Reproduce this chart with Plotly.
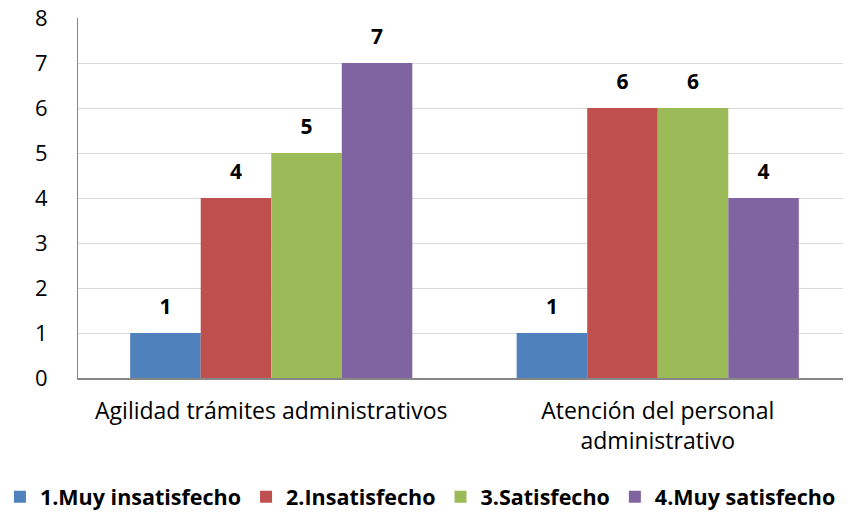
import plotly.graph_objects as go

# ── Data ──────────────────────────────────────────────────────────────────────
categories = ["Agilidad trámites administrativos", "Atención del personal<br>administrativo"]
series = ["1.Muy insatisfecho", "2.Insatisfecho", "3.Satisfecho", "4.Muy satisfecho"]
values = {
    "1.Muy insatisfecho": [1, 1],
    "2.Insatisfecho":     [4, 6],
    "3.Satisfecho":       [5, 6],
    "4.Muy satisfecho":   [7, 4],
}
y_ticks = [0, 1, 2, 3, 4, 5, 6, 7, 8]

# ── Style ─────────────────────────────────────────────────────────────────────
COLORS = ["#4F81BD", "#C0504D", "#9BBB59", "#8064A2"]
FONT = "Open Sans, Calibri, sans-serif"
TEXT = "#000000"
GRID = "#D9D9D9"
AXIS = "#868686"
GAP = 0.27

fig = go.Figure()
for name, col in zip(series, COLORS):
    fig.add_trace(go.Bar(
        x=categories, y=values[name], name=name,
        marker_color=col, marker_line_width=0,
    ))
# value labels: invisible grouped markers so the text sits a little above each bar
for name in series:
    fig.add_trace(go.Scatter(
        x=categories, y=values[name], mode="markers+text", showlegend=False,
        marker=dict(size=20, opacity=0), text=values[name],
        textposition="top center", cliponaxis=False,
        textfont=dict(family=FONT, size=21, color=TEXT, weight="bold"),
        hoverinfo="skip",
    ))

# page body has an 8px margin, so the figure is shrunk to fit the window
fig.update_layout(
    width=843, height=510,
    paper_bgcolor="white", plot_bgcolor="white",
    font=dict(family=FONT, color=TEXT, size=21),
    margin=dict(l=70, r=0, t=10, b=140, autoexpand=False),
    barmode="group", bargap=GAP, bargroupgap=0,
    scattermode="group", scattergap=GAP,
    showlegend=True,
    legend=dict(orientation="h", x=-0.101, xanchor="left", y=-0.33, yanchor="middle",
                font=dict(family=FONT, size=21.5, color=TEXT, weight="bold"),
                itemwidth=30, tracegroupgap=0),
)
fig.update_yaxes(range=[0, 8], tickvals=y_ticks, showgrid=True, gridcolor=GRID,
                 gridwidth=1, showline=True, linecolor=AXIS, linewidth=1,
                 zeroline=False, ticks="", ticklabelstandoff=25,
                 ticklabeloverflow="allow",
                 tickfont=dict(family=FONT, size=22, color=TEXT))
fig.update_xaxes(showline=True, linecolor=AXIS, linewidth=2, ticks="",
                 ticklabelstandoff=11,
                 tickfont=dict(family=FONT, size=23, color=TEXT))

fig.write_html("out.html")
